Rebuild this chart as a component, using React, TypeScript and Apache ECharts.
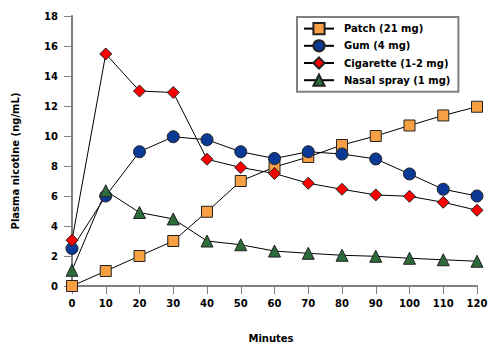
import React, { useEffect, useRef } from "react";
import * as echarts from "echarts";

const minutes = [0, 10, 20, 30, 40, 50, 60, 70, 80, 90, 100, 110, 120];
const patch = [0, 1, 2, 3, 4.95, 7, 7.93, 8.6, 9.4, 10, 10.7, 11.37, 11.95];
const gum = [2.5, 6, 8.95, 9.95, 9.75, 8.95, 8.5, 8.95, 8.8, 8.47, 7.47, 6.45, 6];
const cigarette = [3.05, 15.47, 13, 12.9, 8.45, 7.9, 7.5, 6.85, 6.45, 6.07, 5.98, 5.58, 5.05];
const nasal = [1.05, 6.35, 4.9, 4.47, 3, 2.75, 2.33, 2.18, 2.05, 1.98, 1.85, 1.75, 1.65];
const seriesNames = ["Patch (21 mg)", "Gum (4 mg)", "Cigarette (1-2 mg)", "Nasal spray (1 mg)"];
const yTicks = { min: 0, max: 18, interval: 2 };
const xTicks = { min: 0, max: 120, interval: 10 };

const FONT = "DejaVu Sans, Verdana, sans-serif";

export default function App() {
  const ref = useRef<HTMLDivElement>(null);
  useEffect(() => {
    if (!ref.current) return;
    const chart = echarts.init(ref.current, null, { renderer: "svg" });
    const mk = (name: string, vals: number[], symbol: string, size: number, color: string) => ({
      name,
      type: "line",
      data: minutes.map((m, i) => [m, vals[i]]),
      symbol,
      symbolSize: size,
      showAllSymbol: true,
      lineStyle: { color: "#000", width: 1 },
      itemStyle: { color, borderColor: "#222", borderWidth: 1 },
      emphasis: { disabled: true },
    });
    chart.setOption({
      animation: false,
      textStyle: { fontFamily: FONT },
      grid: { left: 72, right: 22, top: 16, bottom: 71, containLabel: false },
      legend: {
        left: 297,
        top: 17,
        orient: "vertical",
        padding: [5, 8, 5, 6],
        itemWidth: 30,
        itemHeight: 14,
        itemGap: 4,
        borderColor: "#808080",
        borderWidth: 2,
        backgroundColor: "#fff",
        textStyle: { fontFamily: FONT, fontWeight: "bold", fontSize: 10, color: "#000", padding: [0, 0, 0, 5] },
        data: seriesNames,
      },
      xAxis: {
        type: "value",
        min: xTicks.min,
        max: xTicks.max,
        interval: xTicks.interval,
        axisLine: { lineStyle: { color: "#808080", width: 2 } },
        axisTick: { length: 8, lineStyle: { color: "#808080", width: 1 } },
        axisLabel: { margin: 12, fontFamily: FONT, fontWeight: "bold", fontSize: 10, color: "#000" },
        splitLine: { show: false },
      },
      yAxis: {
        type: "value",
        min: yTicks.min,
        max: yTicks.max,
        interval: yTicks.interval,
        axisLine: { show: true, lineStyle: { color: "#808080", width: 2 } },
        axisTick: { show: true, length: 8, lineStyle: { color: "#808080", width: 1 } },
        axisLabel: { margin: 14, fontFamily: FONT, fontWeight: "bold", fontSize: 10, color: "#000" },
        splitLine: { show: false },
      },
      graphic: [
        {
          type: "text",
          x: 15,
          y: 161,
          rotation: Math.PI / 2,
          style: {
            text: "Plasma nicotine (ng/mL)",
            textAlign: "center",
            textVerticalAlign: "middle",
            font: `bold 10px ${FONT}`,
            fill: "#000",
          },
        },
        {
          type: "text",
          x: 271,
          y: 338,
          style: {
            text: "Minutes",
            textAlign: "center",
            textVerticalAlign: "middle",
            font: `bold 10px ${FONT}`,
            fill: "#000",
          },
        },
      ],
      series: [
        mk(seriesNames[0], patch, "rect", 11, "#F7A043"),
        mk(seriesNames[1], gum, "circle", 12, "#0A3A96"),
        mk(seriesNames[2], cigarette, "diamond", 12, "#FF0000"),
        mk(seriesNames[3], nasal, "triangle", 12, "#2E6B3A"),
      ],
    });
    return () => chart.dispose();
  }, []);
  return <div ref={ref} style={{ position: "absolute", left: 0, top: 0, width: 499, height: 357 }} />;
}
